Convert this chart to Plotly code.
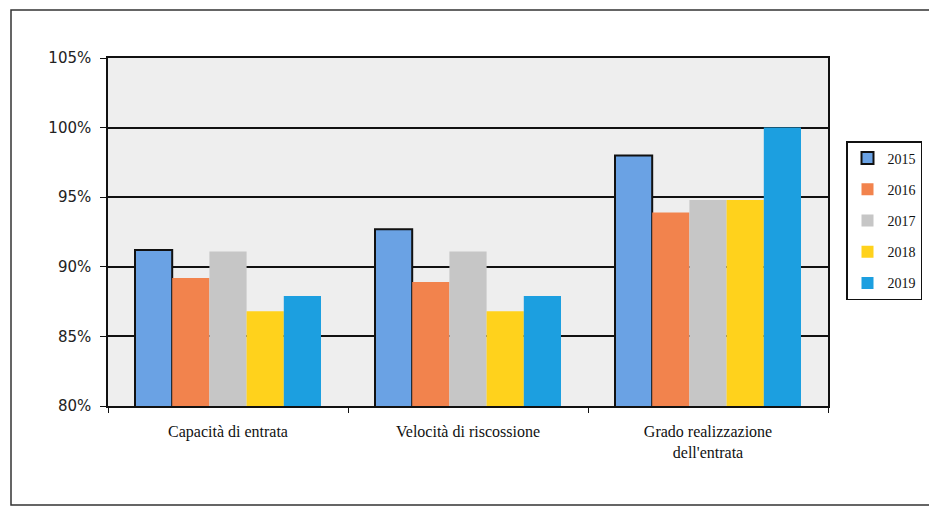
import plotly.graph_objects as go

# Indicatori di riscossione, valori percentuali per anno
categories = ["Capacità di entrata", "Velocità di riscossione", "Grado realizzazione<br>dell'entrata"]
years = ["2015", "2016", "2017", "2018", "2019"]
val_2015 = [91.2, 92.7, 98.0]
val_2016 = [89.2, 88.9, 93.9]
val_2017 = [91.1, 91.1, 94.8]
val_2018 = [86.8, 86.8, 94.8]
val_2019 = [87.9, 87.9, 100.0]
series = [val_2015, val_2016, val_2017, val_2018, val_2019]
colors = ["#6aa2e4", "#f2834d", "#c6c6c6", "#ffd21c", "#1c9fe0"]

W, H = 929, 508
L, R, T, B = 108, 828, 58, 406

fig = go.Figure()
for i, (yr, vals, col) in enumerate(zip(years, series, colors)):
    outline = dict(color="#111111", width=2) if i == 0 else dict(width=0)
    fig.add_trace(go.Bar(
        x=categories, y=vals, name=yr, legendgroup=yr,
        marker=dict(color=col, line=outline),
    ))

def px_x(px):
    return (px - L) / (R - L)

def px_y(py):
    return (B - py) / (B - T)

# cornice esterna del grafico
fig.add_shape(type="rect", xref="paper", yref="paper",
              x0=px_x(11), x1=px_x(940), y0=px_y(505), y1=px_y(10),
              line=dict(color="#333333", width=1.5), layer="below")

fig.update_layout(
    width=W, height=H,
    margin=dict(l=L, r=W - R, t=T, b=H - B, pad=0, autoexpand=False),
    paper_bgcolor="white",
    plot_bgcolor="#eeeeee",
    barmode="group",
    bargap=0.225,
    bargroupgap=0,
    font=dict(family="Liberation Serif", color="#111111"),
    legend=dict(
        x=px_x(846), y=px_y(141), xanchor="left", yanchor="top",
        bordercolor="#111111", borderwidth=1.5, bgcolor="white",
        font=dict(family="Liberation Serif", size=14, color="#111111"),
        tracegroupgap=10, itemwidth=30, traceorder="grouped",
    ),
    xaxis=dict(
        showline=True, linecolor="#111111", linewidth=1.5, mirror=True,
        ticks="outside", ticklen=5, tickcolor="#111111", tickson="boundaries",
        ticklabelstandoff=10,
        tickfont=dict(family="Liberation Serif", size=16, color="#111111"),
        showgrid=False,
    ),
    yaxis=dict(
        range=[80, 105], dtick=5, ticksuffix="%",
        showline=True, linecolor="#111111", linewidth=1.5, mirror=True,
        ticks="outside", ticklen=6, tickcolor="#111111",
        ticklabelstandoff=6,
        gridcolor="#111111", gridwidth=1.5,
        tickfont=dict(family="DejaVu Sans", size=15, color="#222222"),
        zeroline=False,
    ),
)

fig.write_html("out.html")
